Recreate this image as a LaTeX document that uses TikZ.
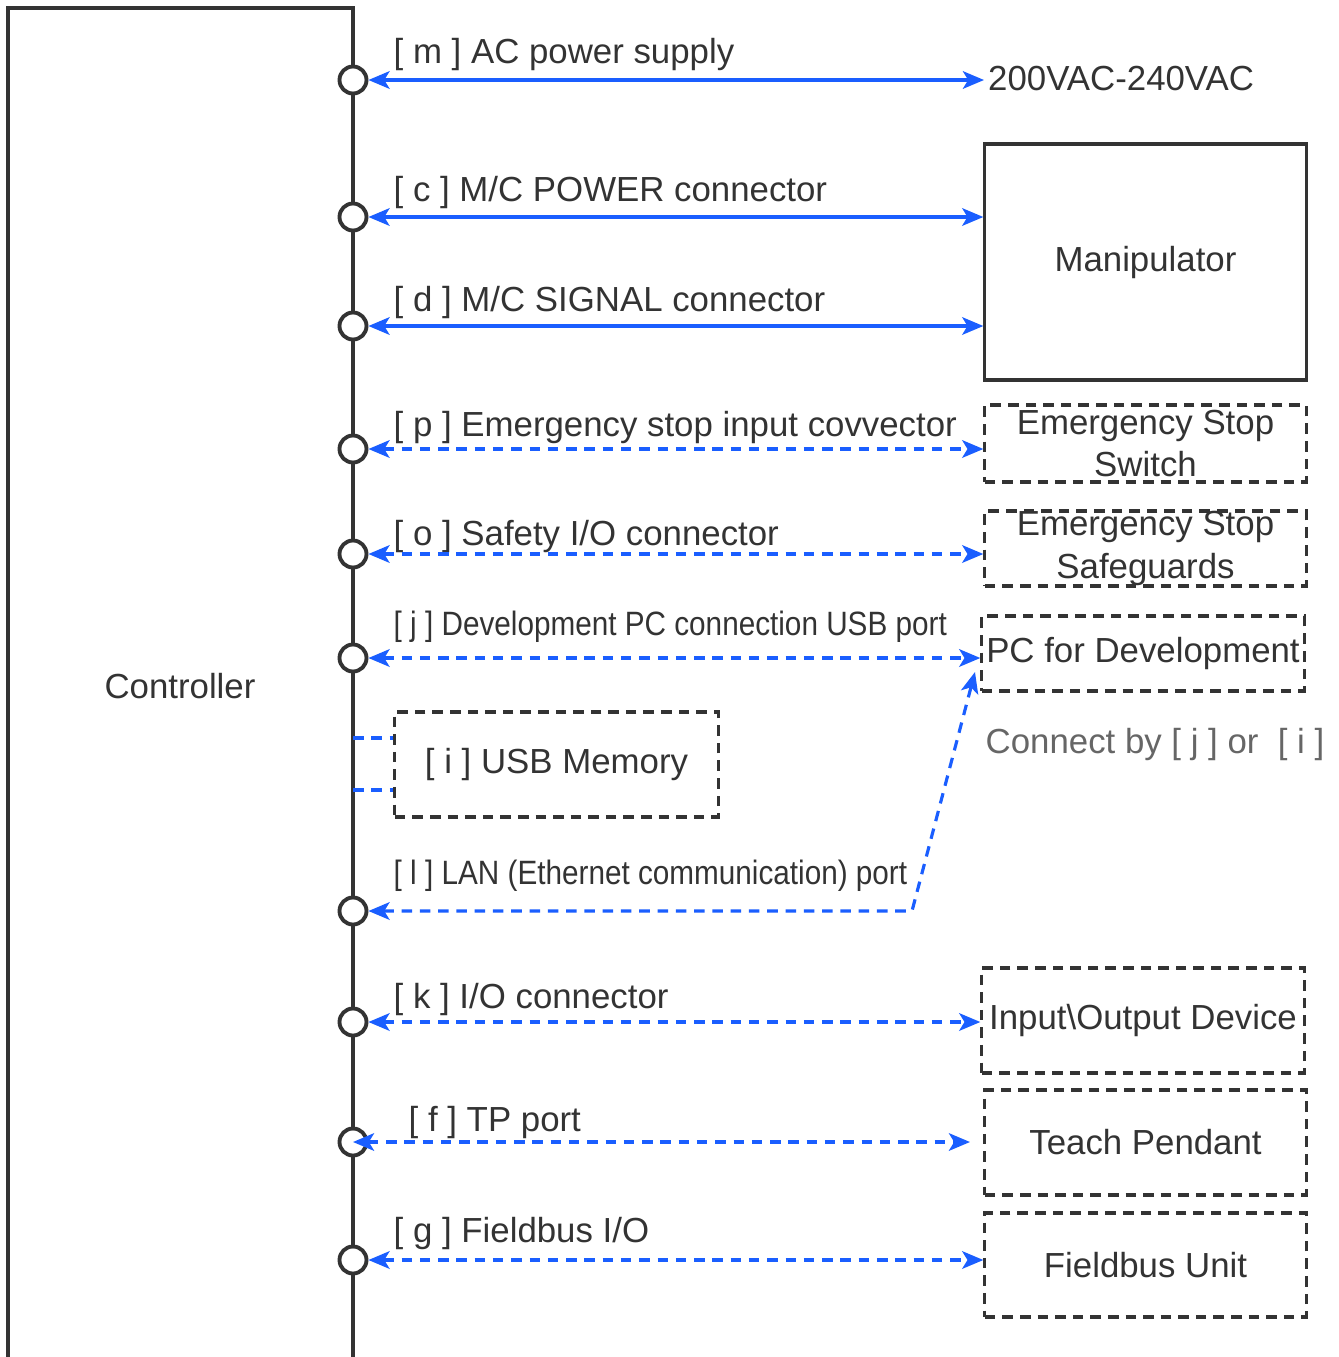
\documentclass[tikz,border=0pt]{standalone}
\usepackage{fontspec}
\setmainfont{Liberation Sans}
\newfontfamily\narrowfont[FakeStretch=0.88]{Liberation Sans}
\usetikzlibrary{arrows.meta}
\definecolor{linkblue}{HTML}{1A5EFF}
\definecolor{inkgray}{HTML}{333333}
\definecolor{notegray}{HTML}{666666}

\begin{document}
\begin{tikzpicture}[x=0.01cm, y=-0.01cm,
    port/.style={circle, draw=inkgray, line width=1.1pt, fill=white, minimum size=0.27cm, inner sep=0pt},
    link/.style={linkblue, line width=0.9pt, {Stealth[length=6pt,width=5pt,inset=1.5pt]}-{Stealth[length=6pt,width=5pt,inset=1.5pt]}},
    dlink/.style={link, dash pattern=on 3pt off 2.2pt},
    device/.style={draw=inkgray, line width=0.9pt, dash pattern=on 3pt off 2pt, minimum width=3.21cm, inner sep=0pt, align=center, text=inkgray, font={\fontsize{9.9}{12}\selectfont}},
    tag/.style={anchor=west, text=inkgray, inner sep=0pt, font={\fontsize{9.9}{12}\selectfont}}]
\useasboundingbox (0,0) rectangle (1338,1357);

% Controller
\draw[inkgray, line width=1pt] (8,1357) -- (8,8) -- (353,8) -- (353,1357);
\node[text=inkgray, font={\fontsize{9.9}{12}\selectfont}] (ctrl) at (180,686) {Controller};

% Ports
\foreach \n/\y in {m/80, c/217, d/326, p/449, o/554, j/658, l/911, k/1022, f/1142, g/1260}
    \node[port] (port-\n) at (353,\y) {};

% Devices
\node[device, solid, minimum height=2.36cm] (manip) at (1145.5,262) {Manipulator};
\node[device, minimum height=0.77cm] (estop) at (1145.5,443.5) {Emergency Stop\\Switch};
\node[device, minimum height=0.75cm] (guard) at (1145.5,548.5) {Emergency Stop\\Safeguards};
\node[device, minimum width=3.22cm, minimum height=0.75cm] (pcdev) at (1143,653.5) {PC for Development};
\node[device, minimum width=3.23cm, minimum height=1.05cm] (usb) at (556.5,764.5) {[ i ] USB Memory};
\node[device, minimum width=3.22cm, minimum height=1.05cm] (iodev) at (1143,1020.5) {Input\textbackslash Output Device};
\node[device, minimum height=1.05cm] (teach) at (1145.5,1142.5) {Teach Pendant};
\node[device, minimum height=1.04cm] (fbus) at (1145.5,1265) {Fieldbus Unit};
\node[tag, inner sep=1pt] (volt) at (984,79) {200VAC-240VAC};
\node[tag, text=notegray] (note) at (985,744) {Connect by [ j ] or\ \ [ i ]};

% Port labels
\node[tag] (lab-m) at (393,54) {[ m ] AC power supply};
\node[tag] (lab-c) at (393,192) {[ c ] M/C POWER connector};
\node[tag] (lab-d) at (393,302) {[ d ] M/C SIGNAL connector};
\node[tag] (lab-p) at (393,427) {[ p ] Emergency stop input covvector};
\node[tag] (lab-o) at (393,536) {[ o ] Safety I/O connector};
\node[tag, font=\narrowfont\fontsize{9.6}{11}\selectfont] (lab-j) at (393,627) {[ j ] Development PC connection USB port};
\node[tag, font=\narrowfont\fontsize{9.6}{11}\selectfont] (lab-l) at (393,876) {[ l ] LAN (Ethernet communication) port};
\node[tag] (lab-k) at (393,999) {[ k ] I/O connector};
\node[tag] (lab-f) at (408,1122) {[ f ] TP port};
\node[tag] (lab-g) at (393,1233) {[ g ] Fieldbus I/O};

% Connections
\draw[link] (port-m) -- (volt.west |- port-m);
\draw[link] (port-c) -- (manip.west |- port-c);
\draw[link] (port-d) -- (manip.west |- port-d);
\draw[dlink] (port-p) -- (estop.west |- port-p);
\draw[dlink] (port-o) -- (guard.west |- port-o);
\draw[dlink] (port-j) -- (pcdev.west |- port-j);
\coordinate (lanbend) at (912,911);
\coordinate (lanend) at (975,672);
\draw[dlink] (port-l) -- (lanbend) -- (lanend);
\draw[dlink] (port-k) -- (iodev.west |- port-k);
\coordinate (tpend) at (970,1142);
\draw[dlink] (port-f.center) -- (tpend);
\draw[dlink] (port-g) -- (fbus.west |- port-g);

% USB memory slot
\coordinate (usbtop) at (353,738);
\coordinate (usbbot) at (353,790);
\draw[linkblue, line width=0.9pt, dash pattern=on 3pt off 2.2pt] (usbtop) -- (usbtop -| usb.west);
\draw[linkblue, line width=0.9pt, dash pattern=on 3pt off 2.2pt] (usbbot) -- (usbbot -| usb.west);
\end{tikzpicture}
\end{document}
